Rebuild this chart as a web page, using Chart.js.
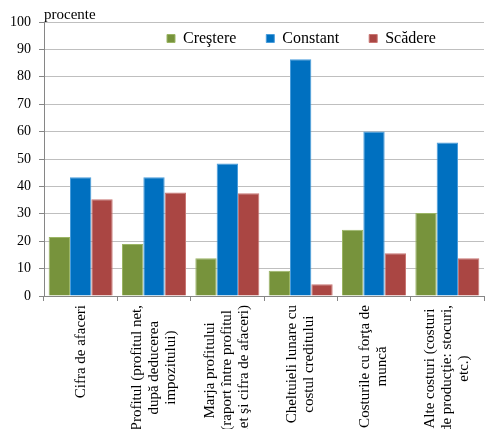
<!DOCTYPE html>
<html>
<head>
<meta charset="utf-8">
<script src="https://cdn.jsdelivr.net/npm/chart.js@4.4.0/dist/chart.umd.min.js"></script>
<style>
  html, body { margin: 0; padding: 0; background: #fff; }
  #wrap { width: 485px; height: 429px; }
</style>
</head>
<body>
<div id="wrap"><canvas id="barChart"></canvas></div>
<script>
// categorii (etichete pe mai multe randuri)
var categories = [
    ['Cifra de afaceri'],
    ['Profitul (profitul net,', 'după deducerea', 'impozitului)'],
    ['Marja profitului', '(raport între profitul', 'net şi cifra de afaceri)'],
    ['Cheltuieli lunare cu', 'costul creditului'],
    ['Costurile cu forţa de', 'muncă'],
    ['Alte costuri (costuri', 'de producţie: stocuri,', 'etc.)']
];
var crestere = [21.5, 19.0, 13.8, 9.2, 24.2, 30.3];
var constant = [43.3, 43.3, 48.4, 86.4, 60.0, 56.0];
var scadere = [35.3, 37.8, 37.5, 4.3, 15.6, 13.8];
var yTicks = [0, 10, 20, 30, 40, 50, 60, 70, 80, 90, 100];

var serif = '"Liberation Serif", "Times New Roman", serif';

// etichete axa x rotite, centrate pe fiecare categorie
var xLabelsPlugin = {
    id: 'xLabels',
    afterDraw: function (chart) {
        var ctx = chart.ctx;
        var xs = chart.scales.x;
        var ca = chart.chartArea;
        ctx.save();
        ctx.font = '15px ' + serif;
        ctx.fillStyle = '#000';
        ctx.textAlign = 'center';
        ctx.textBaseline = 'middle';
        categories.forEach(function (lines, i) {
            var x = xs.getPixelForValue(i);
            var maxW = 0;
            lines.forEach(function (l) { maxW = Math.max(maxW, ctx.measureText(l).width); });
            var cy = ca.bottom + 9 + maxW / 2;
            lines.forEach(function (l, k) {
                var lx = x + (k - (lines.length - 1) / 2) * 17;
                ctx.save();
                ctx.translate(lx, cy);
                ctx.rotate(-Math.PI / 2);
                ctx.fillText(l, 0, 0);
                ctx.restore();
            });
        });
        // titlul axei y
        ctx.textAlign = 'left';
        ctx.textBaseline = 'alphabetic';
        ctx.fillText('procente', ca.left, ca.top - 3);
        ctx.restore();
    }
};

// legenda orizontala, suprapusa peste zona graficului
var legendPosPlugin = {
    id: 'legendPos',
    beforeLayout: function (chart) {
        var lg = chart.legend;
        if (lg && !lg._wrapped) {
            var origFit = lg.fit;
            lg.fit = function () {
                origFit.call(this);
                this._realH = this.height;
                this.height = 0;
            };
            lg._wrapped = true;
        }
    },
    afterLayout: function (chart) {
        var lg = chart.legend;
        var ca = chart.chartArea;
        var w = lg.width;
        lg.height = lg._realH;
        lg.left = ca.left + 93;
        lg.right = lg.left + w;
        lg.top = ca.top - 21.5;
        lg.bottom = lg.top + lg.height;
    }
};

document.addEventListener('DOMContentLoaded', function () {
    var ctx = document.getElementById('barChart').getContext('2d');
    var barChart = new Chart(ctx, {
        type: 'bar',
        data: {
            labels: categories.map(function (c) { return c.join(' '); }),
            datasets: [{
                label: 'Creştere',
                data: crestere,
                backgroundColor: '#77933C',
                borderColor: '#9bb565',
                borderWidth: 1
            }, {
                label: 'Constant',
                data: constant,
                backgroundColor: '#0070C0',
                borderColor: '#4a9ddb',
                borderWidth: 1
            }, {
                label: 'Scădere',
                data: scadere,
                backgroundColor: '#AA4643',
                borderColor: '#c97673',
                borderWidth: 1
            }]
        },
        options: {
            responsive: true,
            maintainAspectRatio: false,
            animation: false,
            layout: {
                padding: { top: 22, right: 1, bottom: 0, left: 0 }
            },
            datasets: {
                bar: { barPercentage: 1, categoryPercentage: 0.873 }
            },
            scales: {
                x: {
                    grid: {
                        offset: true,
                        drawOnChartArea: false,
                        drawTicks: true,
                        tickLength: 5,
                        color: '#868686'
                    },
                    border: { color: '#868686' },
                    ticks: { display: false },
                    afterFit: function (scale) { scale.height = 133; }
                },
                y: {
                    min: 0,
                    max: 100,
                    afterBuildTicks: function (scale) {
                        scale.ticks = yTicks.map(function (v) { return { value: v }; });
                    },
                    grid: {
                        color: '#bfbfbf',
                        tickColor: '#868686',
                        tickLength: 5
                    },
                    border: { color: '#868686' },
                    ticks: {
                        padding: 8,
                        color: '#000',
                        font: { family: serif, size: 14 }
                    },
                    afterFit: function (scale) { scale.width = 44; }
                }
            },
            plugins: {
                legend: {
                    position: 'top',
                    align: 'start',
                    labels: {
                        boxWidth: 8,
                        boxHeight: 8,
                        padding: 30,
                        color: '#000',
                        font: { family: serif, size: 16 }
                    }
                },
                tooltip: { enabled: false }
            }
        },
        plugins: [xLabelsPlugin, legendPosPlugin]
    });
});
</script>
</body>
</html>
